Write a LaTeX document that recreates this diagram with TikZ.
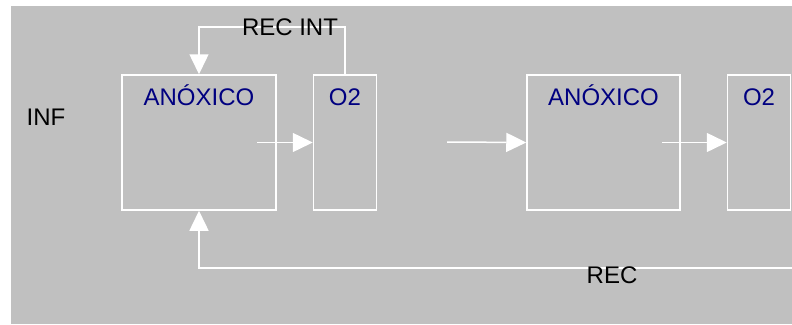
\documentclass[tikz,border=0pt]{standalone}
\usepackage{fontspec}
\setmainfont{Liberation Sans}
\usetikzlibrary{arrows.meta,positioning}
\definecolor{panelgray}{HTML}{C0C0C0}
\definecolor{tankblue}{HTML}{000080}

\begin{document}
\begin{tikzpicture}[
  x=1pt, y=-1pt,
  font=\fontsize{24}{28}\selectfont,
  tank/.style={draw=white, line width=1.5pt, minimum height=135pt, inner sep=0pt},
  tanktxt/.style={text=tankblue, inner sep=0pt, anchor=base},
  lbl/.style={text=black, inner sep=0pt},
  flow/.style={-{Triangle[length=20pt, width=19pt, fill=white]}, draw=white, line width=1.5pt}
]
\useasboundingbox (0,0) rectangle (792,324);
\fill[white] (0,0) rectangle (792,324);
\fill[panelgray] (11,6) rectangle (792,324);

\node[tank, minimum width=154pt] (anox1) at (199,142.5) {};
\node[tank, minimum width=63pt, right=36pt of anox1] (o21) {};
\node[tank, minimum width=153pt, right=149pt of o21] (anox2) {};
\node[tank, minimum width=63pt, right=46pt of anox2] (o22) {};
\node[tanktxt] (anox1txt) at ([yshift=-31pt]anox1.north) {ANÓXICO};
\node[tanktxt] (o21txt)   at ([yshift=-31pt]o21.north)   {O2};
\node[tanktxt] (anox2txt) at ([yshift=-31pt]anox2.north) {ANÓXICO};
\node[tanktxt] (o22txt)   at ([yshift=-31pt]o22.north)   {O2};
\node[lbl] (inf) at (46,117.5) {INF};

\coordinate (feed)   at (447,142);
\coordinate (recint) at (290,27);
\coordinate (recout) at (792,268);

\draw[flow] ([xshift=-20pt]anox1.east) -- (o21.west);
\draw[flow] (feed) -- (anox2.west);
\draw[flow] ([xshift=-19pt]anox2.east) -- (o22.west);
\draw[flow] (o21.north) |- (recint) -| (anox1.north);
\draw[flow] (recout) -| (anox1.south);
\node[lbl] (recintlbl) at (recint) {REC INT};
\node[lbl] (reclbl) at (612,275) {REC};
\end{tikzpicture}
\end{document}
